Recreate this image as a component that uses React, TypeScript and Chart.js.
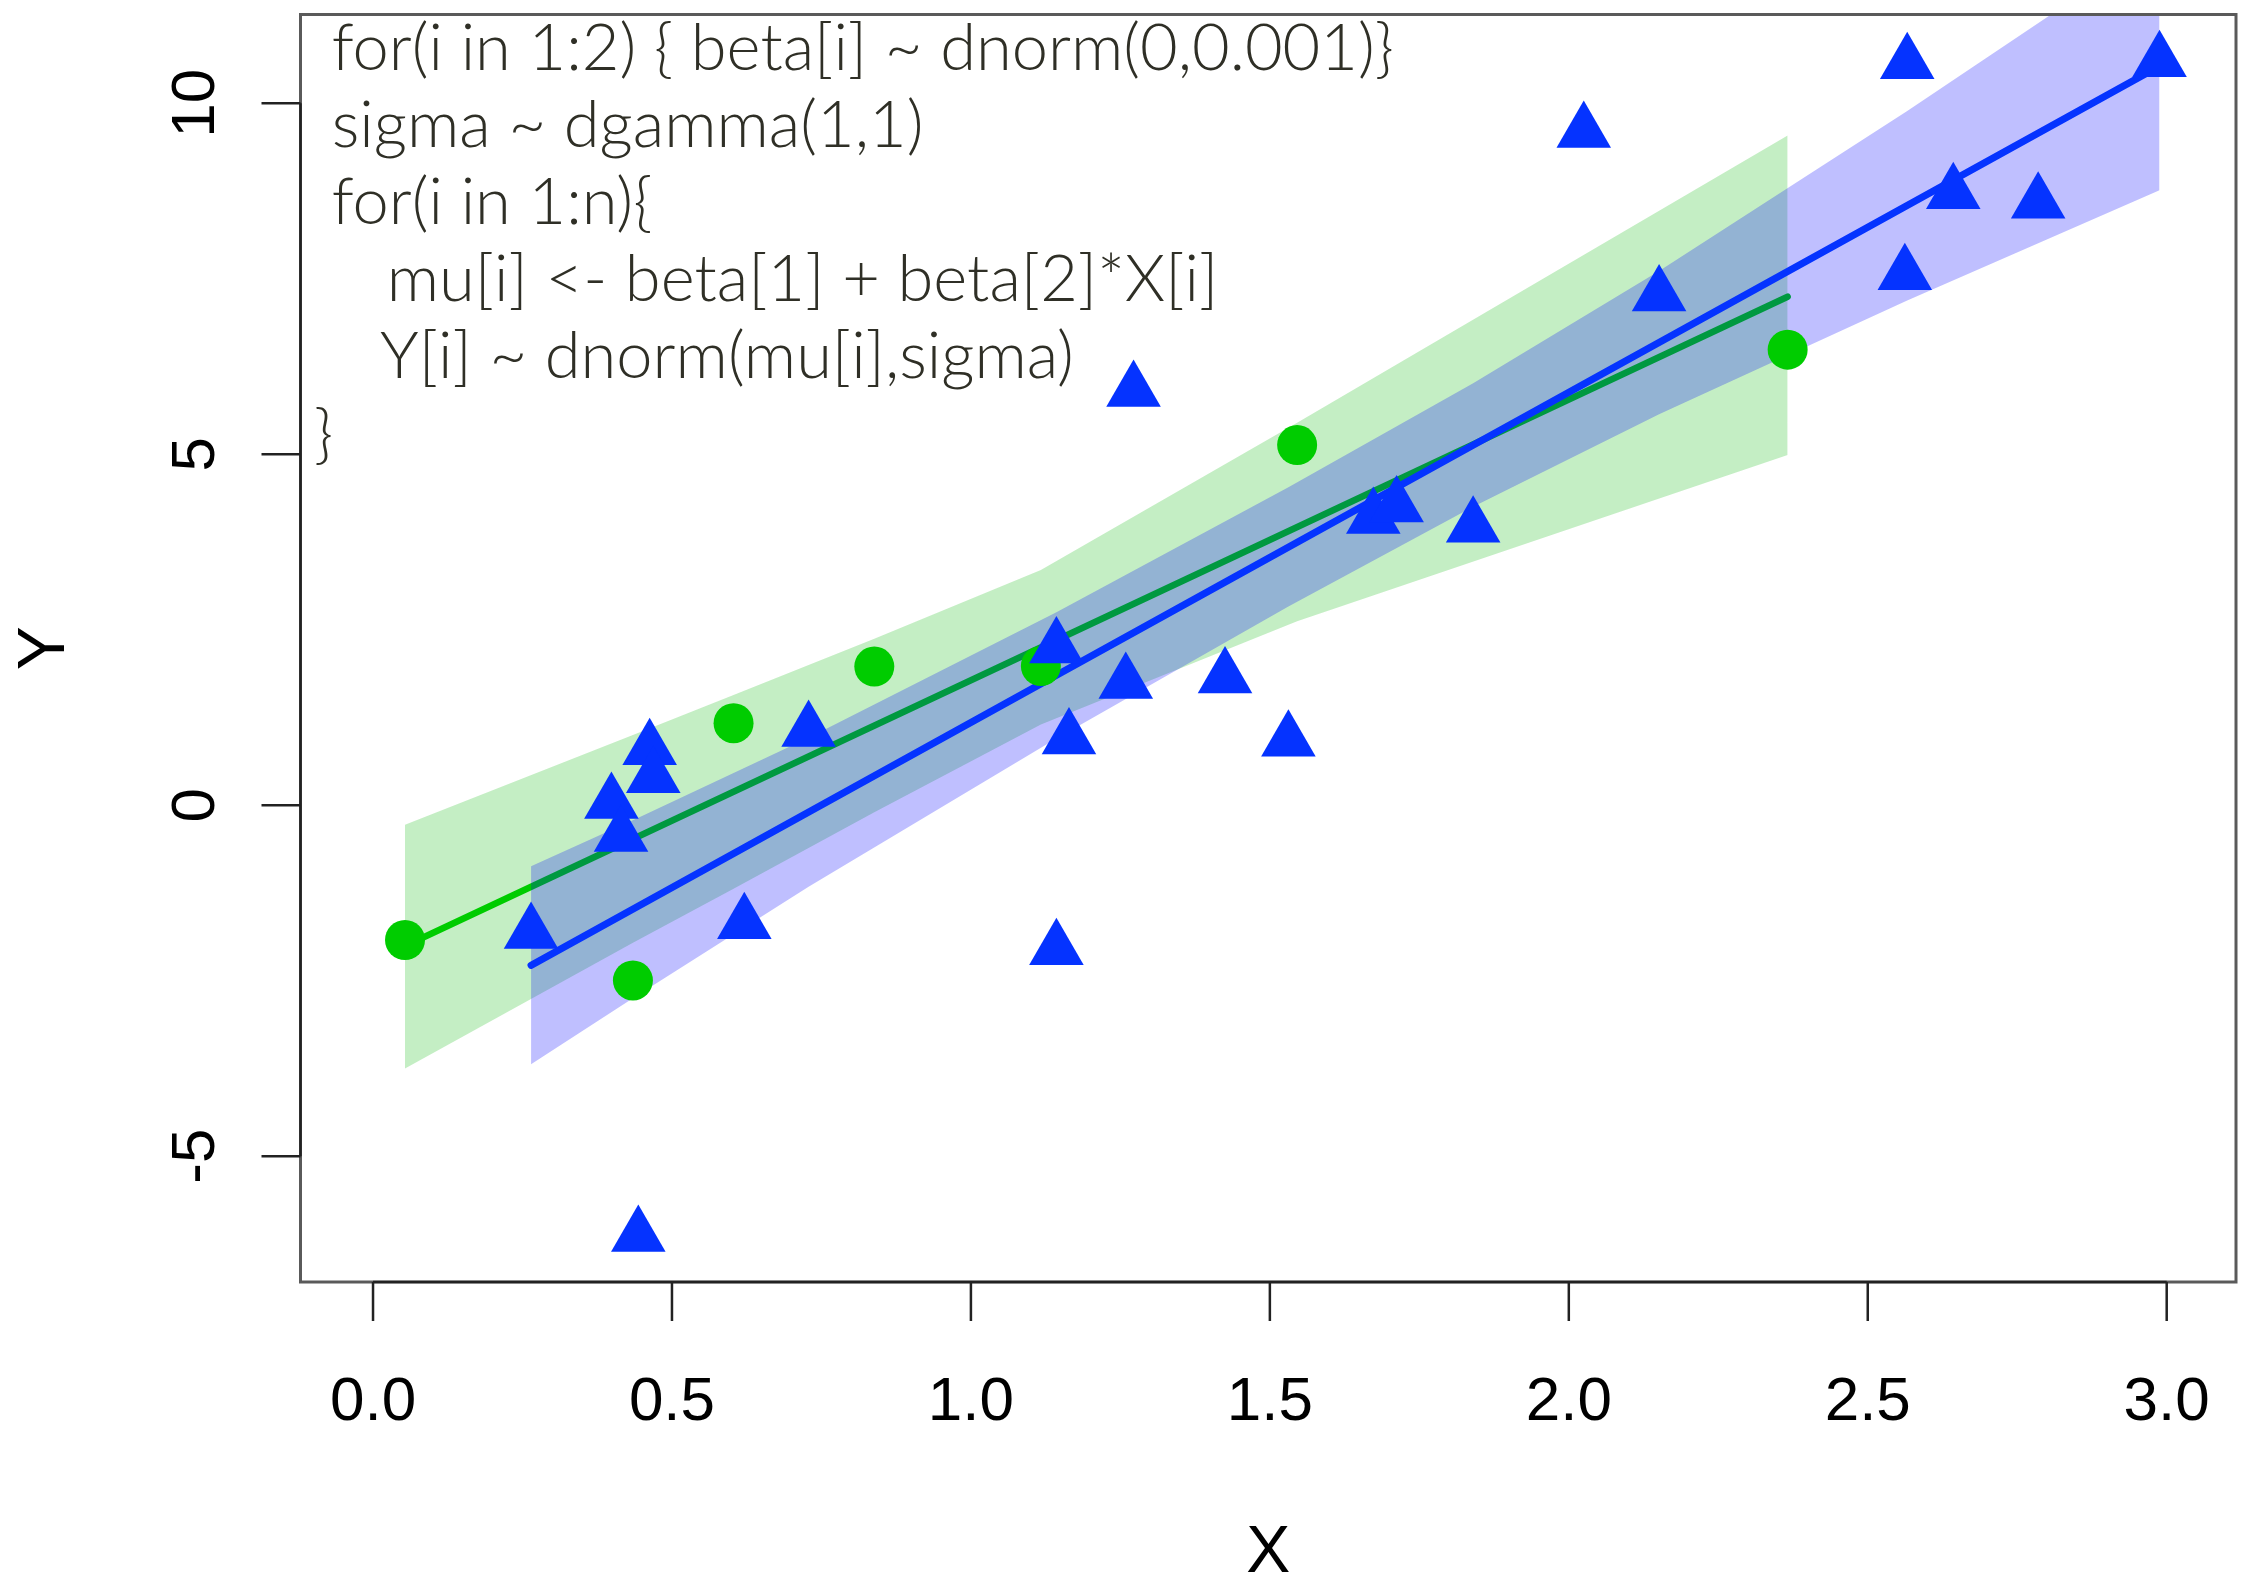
import React, { useEffect, useRef } from 'react';
import { Chart, registerables } from 'chart.js';

Chart.register(...registerables);

// ---- data ----
const greenX = [0.0535, 0.4347, 0.603, 0.8384, 1.117, 1.5456, 2.366];
const greenY = [-1.92, -2.496, 1.168, 1.975, 1.983, 5.131, 6.49];

const blueX = [2.566, 2.988, 2.025, 2.643, 2.785, 2.562, 2.151, 1.272, 1.673, 1.712, 1.84, 1.143, 1.259, 1.425, 1.164, 1.531, 0.7285, 0.4627, 0.4687, 0.3987, 0.4148, 0.2643, 0.621, 1.143, 0.4437];
const blueY = [10.571, 10.597, 9.59, 8.718, 8.584, 7.563, 7.26, 5.902, 4.093, 4.256, 3.966, 2.246, 1.742, 1.819, 0.949, 0.92, 1.057, 0.797, 0.4, 0.033, -0.439, -1.819, -1.681, -2.053, -6.138];

const greenLineX = [0.0535, 2.366];
const greenLineY = [-2.006, 7.244];
const blueLineX = [0.2643, 2.988];
const blueLineY = [-2.282, 10.528];

const greenBandX = [0.0535, 0.4347, 0.603, 0.8384, 1.117, 1.5456, 2.366];
const greenUpper = [-0.28, 1.0, 1.57, 2.37, 3.35, 5.45, 9.54];
const greenLower = [-3.75, -1.96, -1.19, -0.1, 1.15, 2.62, 4.99];

const blueBandX = [0.2643, 0.4437, 0.7285, 1.143, 1.531, 1.84, 2.151, 2.566, 2.988];
const blueUpper = [-0.87, -0.18, 0.96, 2.75, 4.53, 6.01, 7.61, 9.89, 12.3];
const blueLower = [-3.69, -2.7, -1.16, 0.95, 2.83, 4.25, 5.57, 7.19, 8.76];

const xTicks = [0, 0.5, 1, 1.5, 2, 2.5, 3];
const xTickLabels = ['0.0', '0.5', '1.0', '1.5', '2.0', '2.5', '3.0'];
const yTicks = [-5, 0, 5, 10];
const yTickLabels = ['-5', '0', '5', '10'];
const xRange = [-0.1213, 3.1159];
const yRange = [-6.792, 11.264];

const xTitle = 'X';
const yTitle = 'Y';
const codeLines = [
  'for(i in 1:2) { beta[i] ~ dnorm(0,0.001)}',
  'sigma ~ dgamma(1,1)',
  'for(i in 1:n){',
  'mu[i] <- beta[1] + beta[2]*X[i]',
  'Y[i] ~ dnorm(mu[i],sigma)',
  '}',
];

// ---- layout / style (not data) ----
const W = 2241;
const H = 1588;
const LAYOUT = {
  left: 300.5,
  right: 2236,
  top: 14.5,
  bottom: 1282,
  tickLen: 39,
  codeX: [331.7, 331.7, 331.7, 386.7, 380, 314],
  codeBase0: 70,
  codeStep: 77.1,
};
const BLUE = '#0533FF';
const GREEN = '#00CC00';

const pts = (xs: number[], ys: number[]) => xs.map((x, i) => ({ x, y: ys[i] }));

const decor = {
  id: 'decor',
  afterDraw(chart: any) {
    const { ctx, chartArea: a, scales } = chart;
    const xs = scales.x;
    const ys = scales.y;
    ctx.save();
    // box
    ctx.strokeStyle = '#5a5a5a';
    ctx.lineWidth = 3;
    ctx.strokeRect(a.left, a.top, a.right - a.left, a.bottom - a.top);

    // axes lines + ticks
    ctx.strokeStyle = '#222';
    ctx.lineWidth = 2.5;
    ctx.beginPath();
    const xa = xs.getPixelForValue(xTicks[0]);
    const xb = xs.getPixelForValue(xTicks[xTicks.length - 1]);
    ctx.moveTo(xa, a.bottom);
    ctx.lineTo(xb, a.bottom);
    xTicks.forEach((v) => {
      const px = xs.getPixelForValue(v);
      ctx.moveTo(px, a.bottom);
      ctx.lineTo(px, a.bottom + LAYOUT.tickLen);
    });
    const ya = ys.getPixelForValue(yTicks[0]);
    const yb = ys.getPixelForValue(yTicks[yTicks.length - 1]);
    ctx.moveTo(a.left, ya);
    ctx.lineTo(a.left, yb);
    yTicks.forEach((v) => {
      const py = ys.getPixelForValue(v);
      ctx.moveTo(a.left, py);
      ctx.lineTo(a.left - LAYOUT.tickLen, py);
    });
    ctx.stroke();

    // tick labels
    ctx.fillStyle = '#000';
    ctx.font = '62px "Liberation Sans", Arial, sans-serif';
    ctx.textAlign = 'center';
    ctx.textBaseline = 'alphabetic';
    xTicks.forEach((v, i) => {
      ctx.fillText(xTickLabels[i], xs.getPixelForValue(v), 1420);
    });
    yTicks.forEach((v, i) => {
      ctx.save();
      ctx.translate(214, ys.getPixelForValue(v));
      ctx.rotate(-Math.PI / 2);
      ctx.fillText(yTickLabels[i], 0, 0);
      ctx.restore();
    });

    // axis titles
    ctx.font = '66px "Liberation Sans", Arial, sans-serif';
    ctx.fillText(xTitle, (a.left + a.right) / 2, 1572);
    ctx.save();
    ctx.translate(64, (a.top + a.bottom) / 2);
    ctx.rotate(-Math.PI / 2);
    ctx.fillText(yTitle, 0, 0);
    ctx.restore();

    // code text
    ctx.fillStyle = '#2f2f26';
    ctx.font = '300 65px Lato, "Open Sans", sans-serif';
    ctx.textAlign = 'left';
    codeLines.forEach((t, i) => {
      ctx.fillText(t, LAYOUT.codeX[i], LAYOUT.codeBase0 + i * LAYOUT.codeStep);
    });
    ctx.restore();
  },
};

export default function App() {
  const ref = useRef<HTMLCanvasElement | null>(null);
  useEffect(() => {
    document.body.style.margin = '0';
    const canvas = ref.current;
    if (!canvas) return;
    const chart = new Chart(canvas, {
      type: 'scatter',
      data: {
        datasets: [
          {
            type: 'line',
            data: pts(greenBandX, greenLower),
            borderWidth: 0,
            pointRadius: 0,
            fill: false,
            order: 8,
          },
          {
            type: 'line',
            data: pts(greenBandX, greenUpper),
            borderWidth: 0,
            pointRadius: 0,
            fill: '-1',
            backgroundColor: 'rgba(60,200,60,0.30)',
            order: 7,
          },
          {
            type: 'line',
            data: pts(greenLineX, greenLineY),
            borderColor: GREEN,
            borderWidth: 6.5,
            borderCapStyle: 'round',
            pointRadius: 0,
            fill: false,
            order: 6,
          },
          {
            type: 'line',
            data: pts(blueBandX, blueLower),
            borderWidth: 0,
            pointRadius: 0,
            fill: false,
            order: 5,
          },
          {
            type: 'line',
            data: pts(blueBandX, blueUpper),
            borderWidth: 0,
            pointRadius: 0,
            fill: '-1',
            backgroundColor: 'rgba(0,0,255,0.25)',
            order: 4,
          },
          {
            type: 'line',
            data: pts(blueLineX, blueLineY),
            borderColor: BLUE,
            borderWidth: 7,
            borderCapStyle: 'round',
            pointRadius: 0,
            fill: false,
            order: 3,
          },
          {
            type: 'scatter',
            data: pts(greenX, greenY),
            pointStyle: 'circle',
            pointRadius: 20,
            backgroundColor: GREEN,
            borderWidth: 0,
            order: 2,
          },
          {
            type: 'scatter',
            data: pts(blueX, blueY),
            pointStyle: 'triangle',
            pointRadius: 31.5,
            backgroundColor: BLUE,
            borderWidth: 0,
            order: 1,
          },
        ],
      } as any,
      options: {
        animation: false,
        responsive: false,
        devicePixelRatio: 1,
        layout: { autoPadding: false, padding: { left: 0, top: LAYOUT.top, right: W - LAYOUT.right, bottom: 0 } },
        plugins: { legend: { display: false }, tooltip: { enabled: false } },
        events: [],
        scales: {
          x: {
            type: 'linear',
            min: xRange[0],
            max: xRange[1],
            afterBuildTicks: (s: any) => {
              s.ticks = xTicks.map((v) => ({ value: v }));
            },
            afterFit: (s: any) => {
              s.height = H - LAYOUT.bottom;
            },
            ticks: { display: false },
            grid: { display: false },
            border: { display: false },
          },
          y: {
            type: 'linear',
            min: yRange[0],
            max: yRange[1],
            afterBuildTicks: (s: any) => {
              s.ticks = yTicks.map((v) => ({ value: v }));
            },
            afterFit: (s: any) => {
              s.width = LAYOUT.left;
            },
            ticks: { display: false },
            grid: { display: false },
            border: { display: false },
          },
        },
      } as any,
      plugins: [decor],
    });
    return () => chart.destroy();
  }, []);
  return (
    <div style={{ position: 'absolute', left: 0, top: 0, width: W, height: H, background: '#fff' }}>
      <canvas ref={ref} width={W} height={H} style={{ width: W, height: H, display: 'block' }} />
    </div>
  );
}
